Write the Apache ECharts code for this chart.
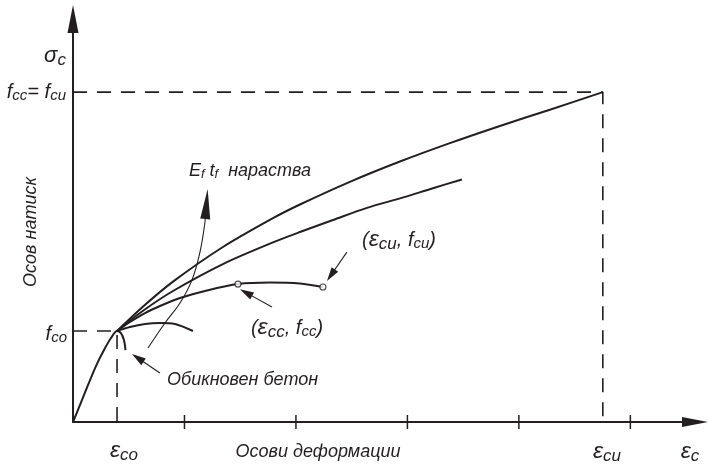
<!DOCTYPE html>
<html>
<head>
<meta charset="utf-8">
<script src="https://cdn.jsdelivr.net/npm/echarts@6/dist/echarts.min.js"></script>
<style>html,body{margin:0;padding:0;background:#fff}#c{width:710px;height:467px}</style>
</head>
<body>
<div id="c"></div>
<script>
// Abstract units: x = strain (1 = one tick step), y = stress (1 = f_co)
const xTicks = [1, 2, 3, 4, 5];
const epsCo = 0.395, fCo = 1.0, epsCu = 4.753, fCu = 3.626;

const unconfined = [[0,0],[0.063,0.187],[0.135,0.407],[0.206,0.615],[0.278,0.791],[0.341,0.923],[0.395,1.0],[0.430,0.978],[0.457,0.901],[0.471,0.791]];
const lowConf   = [[0.395,1.0],[0.511,1.044],[0.646,1.077],[0.780,1.088],[0.915,1.077],[1.076,1.0]];
const midConf   = [[0.395,1.0],[0.511,1.099],[0.646,1.198],[0.780,1.275],[0.960,1.363],[1.184,1.440],[1.480,1.516],[1.767,1.533],[2.036,1.522],[2.242,1.484]];
const highConf  = [[0.395,1.0],[0.619,1.215],[0.897,1.440],[1.345,1.736],[1.794,1.974],[2.036,2.088],[2.332,2.220],[2.637,2.354],[2.933,2.458],[3.229,2.570],[3.489,2.666]];
const topConf   = [[0.395,1.0],[0.619,1.259],[0.897,1.543],[1.345,1.924],[1.794,2.241],[2.036,2.391],[2.484,2.640],[2.933,2.863],[3.381,3.065],[3.830,3.254],[4.278,3.433],[4.753,3.626]];
const keyPoints = [[1.480,1.516],[2.242,1.484]];
const growthLine = [[0.673,0.813],[0.825,1.088],[0.960,1.308],[1.067,1.560],[1.139,1.868],[1.184,2.198]];
const growthHead = [[1.184,2.198],[1.197,2.396]];
const pointers = [
  [[1.785,1.264],[1.552,1.422]],
  [[2.457,1.868],[2.314,1.613]],
  [[0.780,0.538],[0.581,0.704]]
];
const dashCo = [[0,fCo],[epsCo,fCo],[epsCo,0]];
const dashCu = [[0,fCu],[epsCu,fCu],[epsCu,0]];

const INK = '#231f20';
const FONT = 'Liberation Sans';
const chart = echarts.init(document.getElementById('c'), null, {renderer:'canvas'});

function curve(data){
  return {type:'line', data:data, showSymbol:false, smooth:0.3, silent:true,
    lineStyle:{color:INK, width:2}, z:3};
}
function dashed(data){
  return {type:'line', data:data, showSymbol:false, silent:true,
    lineStyle:{color:INK, width:1.6, type:[14,10]}, z:2};
}
const base = {fill:INK, fontFamily:FONT, fontStyle:'italic'};
function rt(o){ return Object.assign({fontFamily:FONT, fontStyle:'italic', fill:INK}, o); }
const rich = {
  e: rt({fontSize:23}),
  s: rt({fontSize:17, padding:[9,0,0,0]}),
  f: rt({fontSize:20}),
  fs: rt({fontSize:15, padding:[8,0,0,0]}),
  t: rt({fontSize:18}),
  ts: rt({fontSize:13, padding:[7,0,0,0]}),
  p: rt({fontSize:20}),
  g: rt({fontSize:22})
};
function txt(x, y, text, align, extra){
  return Object.assign({type:'text', x:x, y:y, silent:true,
    style:Object.assign({text:text, rich:rich, align:align||'center', verticalAlign:'middle', fontSize:18}, base)}, extra||{});
}

chart.setOption({
  animation:false,
  grid:{left:73, right:15, top:19, bottom:45},
  xAxis:{type:'value', min:0, max:5.58,
    axisLine:{show:true, symbol:['none','triangle'], symbolSize:[10,26], lineStyle:{color:INK, width:2}},
    axisTick:{show:false}, axisLabel:{show:false}, splitLine:{show:false}},
  yAxis:{type:'value', min:0, max:4.43,
    axisLine:{show:true, symbol:['none','triangle'], symbolSize:[11,28], lineStyle:{color:INK, width:2}},
    axisTick:{show:false}, axisLabel:{show:false}, splitLine:{show:false}},
  series:[
    dashed(dashCo), dashed(dashCu),
    curve(unconfined), curve(lowConf), curve(midConf), curve(highConf), curve(topConf),
    {type:'line', data:growthLine, showSymbol:false, smooth:0.4, silent:true, lineStyle:{color:INK, width:1.1}, z:3},
    {type:'lines', coordinateSystem:'cartesian2d', silent:true, symbol:['none','triangle'], symbolSize:[1,[10,30]],
      lineStyle:{color:INK, width:1.1, opacity:1}, data:[{coords:growthHead}], z:4},
    {type:'lines', coordinateSystem:'cartesian2d', silent:true, symbol:['none','triangle'], symbolSize:[1,[8,14]],
      lineStyle:{color:INK, width:1.1, opacity:1}, data:pointers.map(c=>({coords:c})), z:4},
    {type:'scatter', data:keyPoints, symbol:'circle', symbolSize:6, silent:true,
      itemStyle:{color:'#fff', borderColor:INK, borderWidth:1.2}, z:5},
    {type:'custom', data:xTicks.map(v=>[v,0]), silent:true, z:6,
      renderItem:function(params, api){
        const p = api.coord([api.value(0), 0]);
        return {type:'line', shape:{x1:p[0], y1:p[1]-7, x2:p[0], y2:p[1]+7}, style:{stroke:INK, lineWidth:1.5}};
      }}
  ],
  graphic:[
    txt(55, 56, '{g|σ}{s|c}'),
    txt(66, 92, '{f|f}{fs|cc}{f|= f}{fs|cu}', 'right'),
    txt(67, 334, '{f|f}{fs|co}', 'right'),
    txt(31, 232, 'Осов натиск', 'center', {rotation:Math.PI/2}),
    txt(250, 171, '{t|E}{ts|f}{t| t}{ts|f}{t|  нараства}'),
    txt(399, 240, '{p|(}{e|ε}{s|cu}{p|, f}{fs|cu}{p|)}'),
    txt(287, 328, '{p|(}{e|ε}{s|cc}{p|, f}{fs|cc}{p|)}'),
    txt(167, 380, 'Обикновен бетон', 'left'),
    txt(124, 451, '{e|ε}{s|co}'),
    txt(318, 452, 'Осови деформации'),
    txt(607, 452, '{e|ε}{s|cu}'),
    txt(690, 452, '{e|ε}{s|c}')
  ]
});
</script>
</body>
</html>
